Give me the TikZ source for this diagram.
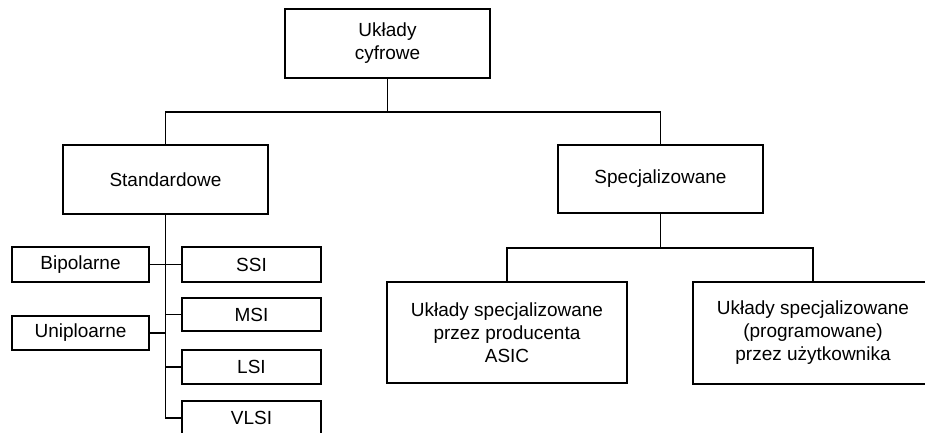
\documentclass[tikz,border=0pt]{standalone}
\usepackage{fontspec}
\setmainfont{Liberation Sans}
\begin{document}
\begin{tikzpicture}[x=1pt,y=-1pt,
  box/.style={draw, line width=1.2pt, rectangle, inner sep=0pt, align=center,
    font=\fontsize{19}{23}\selectfont},
  wire/.style={line width=1.2pt}]
\useasboundingbox (0,0) rectangle (925,432);
\clip (0,0) rectangle (925,432);
% main boxes
\node[box, minimum width=205, minimum height=69] (top) at (387.5,43.5) {Układy\\cyfrowe};
\node[box, minimum width=205, minimum height=69] (std) at (165.5,179.5) {Standardowe};
\node[box, minimum width=205, minimum height=68] (spec) at (660.5,179) {Specjalizowane};
\node[box, minimum width=240, minimum height=101] (asic) at (507,332.5) {Układy specjalizowane\\przez producenta\\ASIC};
\node[box, minimum width=240, minimum height=102] (user) at (813,333) {Układy specjalizowane\\(programowane)\\przez użytkownika};
% left side boxes
\node[box, minimum width=137, minimum height=35] (bip) at (80.5,264.5) {Bipolarne};
\node[box, minimum width=137, minimum height=34] (unip) at (80.5,333) {Uniploarne};
\node[box, minimum width=139, minimum height=35] (ssi) at (251.5,264.5) {SSI};
\node[box, minimum width=139, minimum height=33] (msi) at (251.5,314.5) {MSI};
\node[box, minimum width=139, minimum height=34] (lsi) at (251.5,367) {LSI};
\node[box, minimum width=139, minimum height=34] (vlsi) at (251.5,418) {VLSI};
% junctions
\coordinate (j1) at (387.5,112);
\coordinate (j2) at (660.5,248);
% connectors
\draw[wire] (top.south) -- (j1);
\draw[wire] (std.north) |- (j1) -| (spec.north);
\draw[wire] (spec.south) -- (j2);
\draw[wire] (asic.north) |- (j2) -| (user.north);
\draw[wire] (std.south) |- (vlsi.west);
\draw[wire] (bip.east) -- (ssi.west);
\draw[wire] (unip.east) -- (unip.east -| std.south);
\draw[wire] (msi.west) -- (msi.west -| std.south);
\draw[wire] (lsi.west) -- (lsi.west -| std.south);
\end{tikzpicture}
\end{document}
